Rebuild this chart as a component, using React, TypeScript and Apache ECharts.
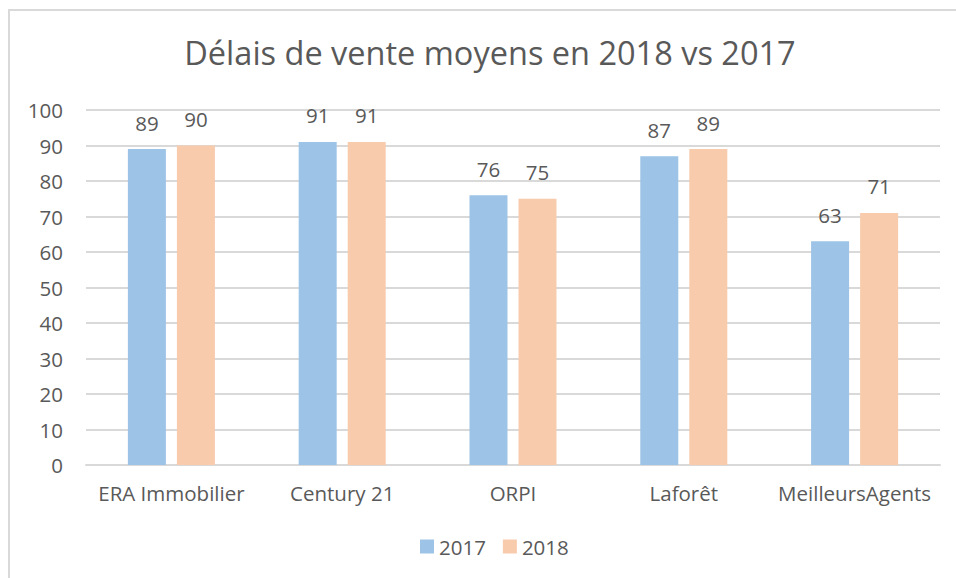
import React, { useEffect, useRef } from "react";
import * as echarts from "echarts";

const categories = ["ERA Immobilier", "Century 21", "ORPI", "Laforêt", "MeilleursAgents"];
const values2017 = [89, 91, 76, 87, 63];
const values2018 = [90, 91, 75, 89, 71];
const seriesNames = ["2017", "2018"];
const titleText = "Délais de vente moyens en 2018 vs 2017";

const FONT = "'Open Sans', sans-serif";
const TEXT = "#595959";

export default function App() {
  const ref = useRef<HTMLDivElement>(null);
  useEffect(() => {
    if (!ref.current) return;
    const chart = echarts.init(ref.current, null, { renderer: "svg" });
    const label = { show: true, position: "top", color: TEXT, fontSize: 20.5, fontFamily: FONT, distance: 16 };
    chart.setOption({
      animation: false,
      backgroundColor: "#ffffff",
      textStyle: { fontFamily: FONT },
      graphic: [
        {
          type: "rect",
          shape: { x: 9, y: 10, width: 1200, height: 1000 },
          style: { fill: "none", stroke: "#D9D9D9", lineWidth: 2 },
          silent: true,
        },
      ],
      title: {
        text: titleText,
        left: 485,
        textAlign: "center",
        top: 31,
        textStyle: { color: TEXT, fontSize: 32.5, fontWeight: "normal", fontFamily: FONT },
      },
      legend: {
        data: seriesNames,
        bottom: 16,
        left: 415,
        itemWidth: 14,
        itemHeight: 14,
        itemGap: 17,
        icon: "rect",
        textStyle: { color: TEXT, fontSize: 20.5, fontFamily: FONT, padding: [0, 0, 0, 0] },
      },
      grid: { left: 86, right: 16, top: 110, bottom: 113, containLabel: false },
      xAxis: {
        type: "category",
        data: categories,
        axisLine: { lineStyle: { color: "#D9D9D9", width: 2 } },
        axisTick: { show: false },
        axisLabel: { color: TEXT, fontSize: 20.5, fontFamily: FONT, margin: 17, interval: 0 },
      },
      yAxis: {
        type: "value",
        min: 0,
        max: 100,
        interval: 10,
        axisLine: { show: false },
        axisTick: { show: false },
        splitLine: { lineStyle: { color: "#D9D9D9", width: 2 } },
        axisLabel: { color: TEXT, fontSize: 20.5, fontFamily: FONT, margin: 23 },
      },
      series: [
        {
          name: seriesNames[0],
          type: "bar",
          data: values2017,
          barWidth: 38,
          barGap: "29%",
          itemStyle: { color: "#9DC3E6" },
          label,
        },
        {
          name: seriesNames[1],
          type: "bar",
          data: values2018,
          barWidth: 38,
          barGap: "29%",
          itemStyle: { color: "#F8CBAD" },
          label,
        },
      ],
    });
    return () => chart.dispose();
  }, []);
  return <div ref={ref} style={{ position: "fixed", left: 0, top: 0, width: 956, height: 578 }} />;
}
